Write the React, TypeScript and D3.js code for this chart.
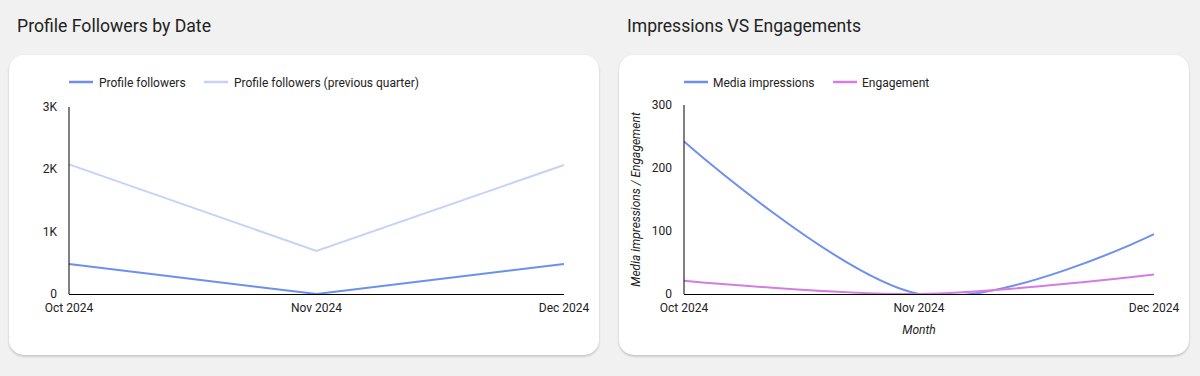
import React from "react";
import * as d3 from "d3";

const months = ["Oct 2024", "Nov 2024", "Dec 2024"];
const profileFollowers = [480, 0, 480];
const profileFollowersPrev = [2080, 690, 2070];
const mediaImpressions = [242, 0, 95];
const engagement = [21, 0, 31];
const leftTicks = [0, 1000, 2000, 3000];
const rightTicks = [0, 100, 200, 300];

const FONT = "Roboto, 'Noto Sans', sans-serif";
const C_BLUE = "#6d8ff0";
const C_LIGHT = "#c6d3f7";
const C_VIOLET = "#d57ce4";

function Card({ x, y, w, h }: { x: number; y: number; w: number; h: number }) {
  return (
    <g>
      <rect x={x} y={y + 1.5} width={w} height={h} rx={15} fill="#9a9a9a" opacity={0.55} filter="url(#blur)" />
      <rect x={x} y={y} width={w} height={h} rx={15} fill="#fff" />
    </g>
  );
}

function LeftChart() {
  const x0 = 69, x1 = 564, yTop = 107, yBot = 294;
  const x = d3.scalePoint<string>().domain(months).range([x0, x1]);
  const y = d3.scaleLinear().domain([0, 3000]).range([yBot, yTop]);
  const line = d3
    .line<number>()
    .x((_, i) => x(months[i]) as number)
    .y((d) => y(d))
    .curve(d3.curveLinear);
  const fmt = (v: number) => (v === 0 ? "0" : `${v / 1000}K`);
  return (
    <g>
      <text x={17} y={32} fontFamily={FONT} fontSize={19} fill="#222" textLength={194} lengthAdjust="spacingAndGlyphs">
        Profile Followers by Date
      </text>
      <Card x={9} y={55} w={590} h={300} />
      <line x1={69} x2={93} y1={82} y2={82} stroke={C_BLUE} strokeWidth={2.5} />
      <text x={99} y={86.5} fontFamily={FONT} fontSize={12} fill="#222">Profile followers</text>
      <line x1={204} x2={228} y1={82} y2={82} stroke={C_LIGHT} strokeWidth={2.5} />
      <text x={234} y={86.5} fontFamily={FONT} fontSize={12} fill="#222">Profile followers (previous quarter)</text>
      {leftTicks.map((t) => (
        <text key={t} x={57} y={y(t) + 4} textAnchor="end" fontFamily={FONT} fontSize={12} fill="#222">
          {fmt(t)}
        </text>
      ))}
      <path d={line(profileFollowersPrev) || ""} fill="none" stroke={C_LIGHT} strokeWidth={2} />
      <path d={line(profileFollowers) || ""} fill="none" stroke={C_BLUE} strokeWidth={2} />
      <line x1={x0} x2={x0} y1={yTop} y2={yBot} stroke="#000" strokeWidth={1} />
      <line x1={x0} x2={x1} y1={yBot + 0.5} y2={yBot + 0.5} stroke="#000" strokeWidth={1} />
      {months.map((m) => (
        <text key={m} x={x(m)} y={312} textAnchor="middle" fontFamily={FONT} fontSize={12} fill="#222">
          {m}
        </text>
      ))}
    </g>
  );
}

function RightChart() {
  const x0 = 684, x1 = 1154, yTop = 105, yBot = 294;
  const x = d3.scalePoint<string>().domain(months).range([x0, x1]);
  const y = d3.scaleLinear().domain([0, 300]).range([yBot, yTop]);
  const line = d3
    .line<number>()
    .x((_, i) => x(months[i]) as number)
    .y((d) => y(d))
    .curve(d3.curveCardinal.tension(0));
  return (
    <g>
      <text x={627} y={32} fontFamily={FONT} fontSize={19} fill="#222" textLength={234} lengthAdjust="spacingAndGlyphs">
        Impressions VS Engagements
      </text>
      <Card x={619} y={55} w={570} h={300} />
      <defs>
        <clipPath id="rclip">
          <rect x={x0} y={yTop - 10} width={x1 - x0 + 2} height={yBot - yTop + 10} />
        </clipPath>
      </defs>
      <line x1={684} x2={708} y1={82} y2={82} stroke={C_BLUE} strokeWidth={2.5} />
      <text x={713} y={86.5} fontFamily={FONT} fontSize={12} fill="#222">Media impressions</text>
      <line x1={833} x2={857} y1={82} y2={82} stroke={C_VIOLET} strokeWidth={2.5} />
      <text x={862} y={86.5} fontFamily={FONT} fontSize={12} fill="#222">Engagement</text>
      {rightTicks.map((t) => (
        <text key={t} x={672} y={y(t) + 4} textAnchor="end" fontFamily={FONT} fontSize={12} fill="#222">
          {t}
        </text>
      ))}
      <text
        transform={`translate(640,${(yTop + yBot) / 2}) rotate(-90)`}
        textAnchor="middle"
        fontFamily={FONT}
        fontSize={12}
        fontStyle="italic"
        fill="#222"
      >
        Media impressions / Engagement
      </text>
      <g clipPath="url(#rclip)">
        <path d={line(mediaImpressions) || ""} fill="none" stroke={C_BLUE} strokeWidth={2} />
        <path d={line(engagement) || ""} fill="none" stroke={C_VIOLET} strokeWidth={2} />
      </g>
      <line x1={x0} x2={x0} y1={yTop} y2={yBot} stroke="#000" strokeWidth={1} />
      <line x1={x0} x2={x1} y1={yBot + 0.5} y2={yBot + 0.5} stroke="#000" strokeWidth={1} />
      {months.map((m) => (
        <text key={m} x={x(m)} y={312} textAnchor="middle" fontFamily={FONT} fontSize={12} fill="#222">
          {m}
        </text>
      ))}
      <text x={(x0 + x1) / 2} y={334} textAnchor="middle" fontFamily={FONT} fontSize={12} fontStyle="italic" fill="#222">
        Month
      </text>
    </g>
  );
}

export default function App() {
  return (
    <svg width={1200} height={376} style={{ position: "absolute", left: 0, top: 0, display: "block" }}>
      <defs>
        <filter id="blur" x="-5%" y="-5%" width="110%" height="115%">
          <feGaussianBlur stdDeviation={1.2} />
        </filter>
      </defs>
      <rect x={0} y={0} width={1200} height={376} fill="#f1f1f1" />
      <LeftChart />
      <RightChart />
    </svg>
  );
}
